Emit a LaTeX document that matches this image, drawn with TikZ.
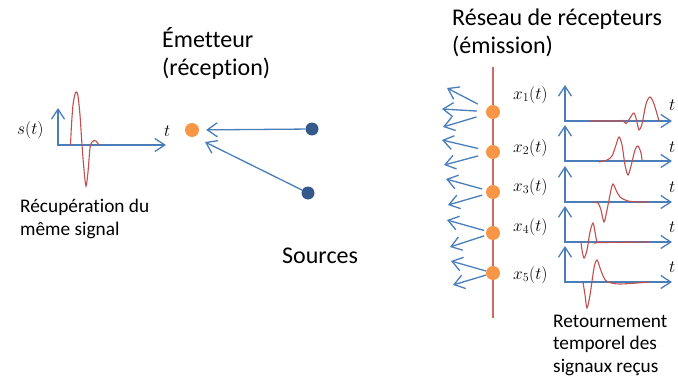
\documentclass[tikz,border=0pt]{standalone}
\usepackage{fontspec}
\setmainfont{Carlito}[Ligatures=NoCommon]
\usetikzlibrary{arrows.meta,positioning,calc}
\definecolor{axisblue}{HTML}{4A7EBB}
\definecolor{wavered}{HTML}{C0504D}
\definecolor{linered}{HTML}{CD6A66}
\definecolor{dotorange}{HTML}{F79646}
\definecolor{dotblue}{HTML}{34598A}

\begin{document}
\begin{tikzpicture}[x=1pt,y=-1pt,
every node/.style={inner sep=0pt},
bigtext/.style={font=\fontsize{24}{27.5}\selectfont,align=left,anchor=base west},
smalltext/.style={font=\fontsize{19.3}{22.3}\selectfont,align=left,anchor=base west},
mathlabel/.style={font=\fontsize{17}{19}\selectfont,anchor=base west},
axis/.style={draw=axisblue,line width=1.3pt,{Straight Barb[length=10pt,width=13pt]}-{Straight Barb[length=10pt,width=13pt]}},
ray/.style={draw=axisblue,line width=1.3pt,-{Straight Barb[length=10pt,width=14pt]}},
wave/.style={draw=wavered,line width=1.1pt},
recdot/.style={circle,fill=dotorange,minimum size=14pt},
srcdot/.style={circle,fill=dotblue,minimum size=13pt}]
\useasboundingbox (0,0) rectangle (678,380);

% texts (base = last line)
\node[bigtext] (emitlabel) at (162,75) {Émetteur\\(réception)};
\node[bigtext] (arraylabel) at (452,53) {Réseau de récepteurs\\(émission)};
\node[bigtext] (srclabel) at (282,263) {Sources};
\node[smalltext] (samelabel) at (20,235) {Récupération du\\même signal};
\node[smalltext] (revlabel) at (553,372) {Retournement\\temporel des\\signaux reçus};

% emitted signal
\coordinate (s top) at (58,108);
\coordinate (s end) at (166,145);
\draw[axis] (s top) |- (s end);
\node[mathlabel] (slabel) at (17,134) {$s(t)$};
\node[mathlabel] (stlabel) at (164,136) {$t$};
\draw[wave] plot[smooth,tension=0.5] coordinates {(70.5,145) (71.5,125) (73,105) (75,94) (76.5,92) (78,96) (80,115) (82,145) (84,170) (86,186) (88,172) (90,148) (92,142) (94,140.5) (96,141) (98,143.5) (99,145)};

% emitter and sources
\node[recdot] (e) at (192,130) {};
\node[srcdot] (s1) at (312,129) {};
\node[srcdot] (s2) at (308,193) {};
\coordinate (e2) at (205,142);
\draw[ray,shorten >=7pt] (s1) -- (e);
\draw[ray] (s2) -- (e2);

% receiver array
\coordinate (arraytop) at (493,67);
\coordinate (arraybot) at (493,318);
\draw[linered,line width=1.4pt] (arraytop) -- (arraybot);
\foreach \i/\y in {1/112,2/152,3/192,4/233,5/273}
  \node[recdot] (r\i) at (493,\y) {};
\foreach \i/\s/\xa/\ya/\xb/\yb in {1/10/447/88/443/127,2/8/442/140/444/165,3/4/446/179/448/205,4/2/447/220/450/247,5/0/451/261/453/285}{
  \coordinate (ra\i) at (\xa,\ya);
  \coordinate (rb\i) at (\xb,\yb);
  \draw[ray,shorten <=\s pt] (r\i) -- (ra\i);
  \draw[ray,shorten <=\s pt] (r\i) -- (rb\i);
}
\coordinate (rc1) at (442,109);
\draw[ray,shorten <=9pt] (r1) -- (rc1);

% received signals
\foreach \i/\y/\lb/\tb in {1/121/99/110,2/161/152/152,3/202/191/192,4/242/231/232,5/282/279/272}{
  \coordinate (p\i top) at (565,\y-36);
  \coordinate (p\i end) at (672,\y);
  \draw[axis] (p\i top) |- (p\i end);
  \node[mathlabel] (x\i label) at (513,\lb) {$x_{\i}(t)$};
  \node[mathlabel] (t\i label) at (669,\tb) {$t$};
}
\draw[wave] plot[smooth,tension=0.5] coordinates {(589,121) (621,121) (623,120.5) (626,123.5) (630,118) (634,113) (637,122) (639,130) (642,124) (646,104) (650,97) (654,104) (659,121)};
\draw[wave] plot[smooth,tension=0.5] coordinates {(599,162) (607,160) (612,156) (616,145) (619,137) (622,145) (625,165) (628,175) (631,166) (635,150) (638,146) (641,153) (642,160)};
\draw[wave] plot[smooth,tension=0.5] coordinates {(593,202) (598,203) (601,210) (604,222) (607,210) (611,190) (613,184) (616,190) (620,197) (628,201) (640,202) (650,202)};
\draw[wave] plot[smooth,tension=0.5] coordinates {(581,242) (582,250) (584,258) (587,250) (590,232) (593,223) (595,232) (597,242) (600,242.5) (650,242)};
\draw[wave] plot[smooth,tension=0.5] coordinates {(583,282) (585,295) (587,308) (590,295) (594,268) (597,260) (600,268) (604,278) (608,282) (620,284) (650,282)};
\end{tikzpicture}
\end{document}
